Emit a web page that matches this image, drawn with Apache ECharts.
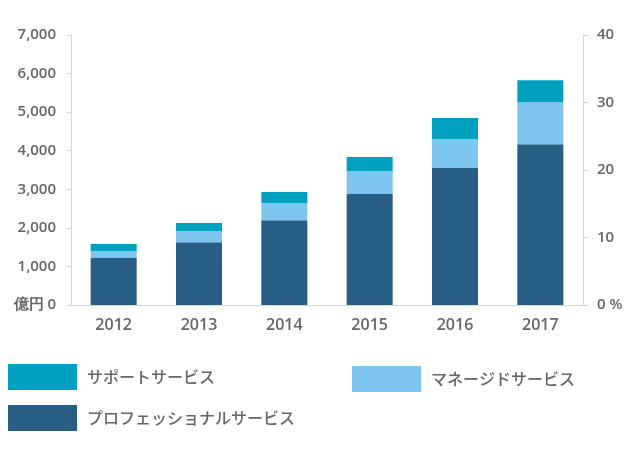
<!DOCTYPE html>
<html>
<head>
<meta charset="utf-8">
<script src="https://cdn.jsdelivr.net/npm/echarts@6/dist/echarts.min.js"></script>
<style>
  html, body { margin: 0; padding: 0; background: #fff; }
  #chart { width: 640px; height: 454px; }
</style>
</head>
<body>
<div id="chart"></div>
<script>
// 売上高（億円）
const years = ['2012', '2013', '2014', '2015', '2016', '2017'];
const professional = [1220, 1630, 2200, 2880, 3550, 4170];
const managed = [180, 290, 445, 595, 755, 1090];
const support = [180, 205, 285, 365, 545, 570];

const leftTicks = { min: 0, max: 7000, interval: 1000 };
const rightTicks = { min: 0, max: 40, interval: 10 };

const names = ['プロフェッショナルサービス', 'マネージドサービス', 'サポートサービス'];
const colors = ['#295e84', '#7dc5ee', '#00a0be'];

const axisGrey = '#d6d6d6';
const textGrey = '#666666';
const numFont = '"Open Sans", sans-serif';
const jpFont = '"Noto Sans CJK JP", sans-serif';

const chart = echarts.init(document.getElementById('chart'));

const legendBase = {
	padding: 0,
	itemWidth: 69,
	itemHeight: 26,
	itemGap: 0,
	icon: 'rect',
	selectedMode: false,
	textStyle: { color: textGrey, fontSize: 16, fontWeight: 500, fontFamily: jpFont, padding: [0, 0, 0, 5] }
};

chart.setOption({
	animation: false,
	grid: { left: 71, right: 57, top: 35, bottom: 149 },
	legend: [
		{ ...legendBase, left: 8, top: 364, data: [names[2]] },
		{ ...legendBase, left: 352, top: 366, data: [names[1]] },
		{ ...legendBase, left: 8, top: 405, data: [names[0]] }
	],
	xAxis: [
		{
			type: 'category',
			data: years,
			axisLine: { lineStyle: { color: axisGrey } },
			axisTick: { length: 6, lineStyle: { color: axisGrey } },
			axisLabel: { color: textGrey, fontSize: 16, fontWeight: 600, fontFamily: numFont, margin: 12 }
		},
		{
			// top border line only
			type: 'category',
			position: 'top',
			data: years,
			axisLine: { show: true, lineStyle: { color: axisGrey } },
			axisTick: { show: false },
			axisLabel: { show: false }
		}
	],
	yAxis: [
		{
			type: 'value',
			...leftTicks,
			axisLine: { show: true, lineStyle: { color: axisGrey } },
			axisTick: { show: true, length: 4, lineStyle: { color: axisGrey } },
			splitLine: { show: false },
			axisLabel: {
				color: textGrey, fontSize: 15, fontWeight: 600, fontFamily: numFont, margin: 15,
				formatter: v => v === 0 ? '億円 0' : v.toLocaleString('en-US')
			}
		},
		{
			type: 'value',
			position: 'right',
			...rightTicks,
			axisLine: { show: true, lineStyle: { color: axisGrey } },
			axisTick: { show: true, length: 6, lineStyle: { color: axisGrey } },
			splitLine: { show: false },
			axisLabel: {
				color: textGrey, fontSize: 15, fontWeight: 600, fontFamily: numFont, margin: 14,
				formatter: v => v === 0 ? '0 %' : String(v)
			}
		}
	],
	series: [
		{ name: names[0], type: 'bar', stack: 'sales', barWidth: 46, data: professional, itemStyle: { color: colors[0] } },
		{ name: names[1], type: 'bar', stack: 'sales', barWidth: 46, data: managed, itemStyle: { color: colors[1] } },
		{ name: names[2], type: 'bar', stack: 'sales', barWidth: 46, data: support, itemStyle: { color: colors[2] } }
	]
});
</script>
</body>
</html>
